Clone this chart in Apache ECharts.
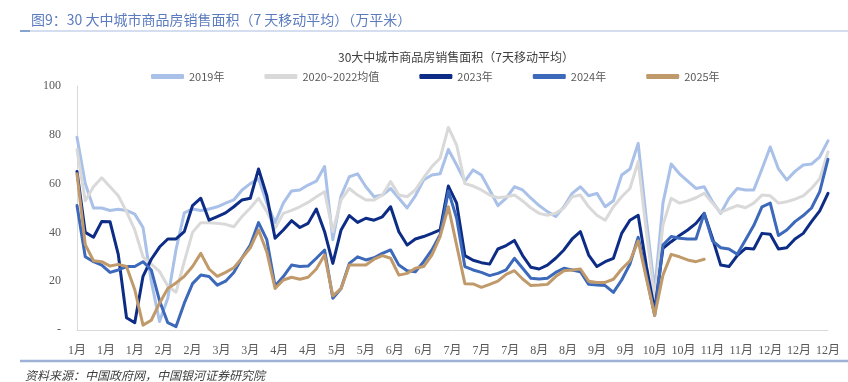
<!DOCTYPE html>
<html>
<head>
<meta charset="utf-8">
<script src="https://cdn.jsdelivr.net/npm/echarts@6/dist/echarts.min.js"></script>
<style>
html,body{margin:0;padding:0;background:#fff;}
#chart{width:848px;height:382px;}
</style>
</head>
<body>
<div id="chart"></div>
<script>
// day of year (0 = 1月1日), sampled every 4 days
const days = [0,4,8,12,16,20,24,28,32,36,40,44,48,52,56,60,64,68,72,76,80,84,88,92,96,100,104,108,112,116,120,124,128,132,136,140,144,148,152,156,160,164,168,172,176,180,184,188,192,196,200,204,208,212,216,220,224,228,232,236,240,244,248,252,256,260,264,268,272,276,280,284,288,292,296,300,304,308,312,316,320,324,328,332,336,340,344,348,352,356,360,364];

const xTickLabels = ['1月','1月','1月','2月','2月','3月','3月','4月','4月','5月','5月','6月','6月','7月','7月','7月','8月','8月','9月','9月','10月','10月','11月','11月','12月','12月','12月'];

const seriesNames = ['2019年','2020~2022均值','2023年','2024年','2025年'];

const s2019 = [79,60,50,50,49,49.5,49,47.5,42,20,3.5,13,33,48,49.6,49,49.6,50.5,52,53.3,57.4,60,62,52,44,52,57,57.4,59.4,61,67,37,55,62.8,64,58.7,54.6,55.3,58,54,50,55,61.5,63.5,64,74,67.6,61,65.6,63.5,57.4,51,54,58.7,57.4,54,51,48.5,46.5,50.5,56,58.7,55,56,50.5,53,63.5,66,76.5,45,16,52,68,64,61,58,58.7,52.6,47.8,54,58,57.4,57.4,66,75,66,61.5,65,67.6,68,71,77.5];

const sAvg = [74,53,58.7,62.4,58.7,55,48.5,41,30,27,24,18,15.5,28,40,44,44,43.7,43.3,42.3,46.5,50,54,48.5,41.7,47.8,49,50.5,52.3,54.6,56.7,40.3,53.3,58,55.3,53.3,53.3,55.3,60.8,55.3,54.6,57.4,62.4,67,70.4,83,75.8,60,59,57.4,55.3,54.2,54.6,55.3,52.9,50,47.8,47,47.8,50,54.6,55.3,50.5,47,45,50.5,54.6,58,69,40,13,43,54,52,52.9,54.2,56,52,48.2,49.6,51,50.1,52,55.3,55,52,52.6,53.6,55,58,62,73];

const s2023 = [65,40,38,44.5,44.4,31,5,3,22,29,34,37.3,37.3,40.3,51,54,45,46.5,48,50.5,53.3,54,66,55,37.6,41,44.8,42,43.7,49.6,40.3,27.3,41,46.9,44.1,45.8,45,46.4,50.5,40.3,34.8,37.3,38.3,39.6,41,59,52,30.5,28.6,27.6,27,33.2,34.6,36.7,30.5,25.7,25,26.6,29.4,32.8,37.3,40.3,30.7,26,28,29.4,39.6,45,47,26,8,33.5,36.2,38.7,41,43.7,47.8,37.6,26.6,26,30.5,33.5,33.2,39.6,39.2,33.2,33.7,37.3,39.6,44.4,48.8,56];

const s2024 = [51,30,28,26.6,23.6,24.6,26,26,28,24.6,12,3,1.4,11,19,22.5,21.9,18.4,20,23.6,29.6,34.8,44,37,18,21.9,26.6,26,26.2,29.4,32.8,13,17,27.3,30,28.7,29.6,31.4,32.8,26.6,24.3,23.9,28,32.8,39,57,45.8,26,24.6,23.6,22.3,23.2,24.6,29.4,25.3,21.2,20.9,21.2,23.6,25.3,24.6,23.9,18.7,18.4,18.2,15.4,20.5,27,38,22,6,34.8,38.3,37.6,37.3,37.3,47.8,36.5,33.7,33.2,31,36.9,42.8,50.5,52,38.7,41,44.4,46.9,50,56.7,70];

const s2025 = [64,35,28.4,28,26.2,26.9,26,16.5,2,4,11,17,19.3,22,26,31.4,25,22,23.6,25.5,29.5,33.7,41,32,17,20.5,21.6,20.8,21.6,25,30.7,14,17,26.6,26.6,26.6,29,30.5,29.4,22.5,23.2,25.3,26,30.7,38.3,50.5,34.8,19,18.9,17.5,18.7,20,22.8,24.3,20.9,18.2,18.4,18.7,21.9,24.3,24.6,25,20,19.5,19.5,20.8,25,28.3,36.5,21,6,22.5,31,30,28.7,28,29];

const colors = ['#a9c0e8','#d9d9d9','#0d2c86','#3d69ba','#c09a6a'];
const allValues = [s2019, sAvg, s2023, s2024, s2025];

function pairs(vals){ return vals.map((v,i)=>[days[i], v]); }

const chart = echarts.init(document.getElementById('chart'), null, {renderer:'canvas'});
chart.setOption({
  animation:false,
  backgroundColor:'#ffffff',
  color: colors,
  title:[
    {text:'图9：30 大中城市商品房销售面积（7 天移动平均）（万平米）', left:26, top:8,
     textStyle:{fontSize:14, fontWeight:'normal', color:'#5b7bbf', fontFamily:'Noto Sans CJK SC'}},
    {text:'30大中城市商品房销售面积（7天移动平均）', left:333, top:46,
     textStyle:{fontSize:12, fontWeight:'normal', color:'#404040', fontFamily:'Noto Sans CJK SC'}},
    {text:'资料来源：中国政府网，中国银河证券研究院', left:20, top:364,
     textStyle:{fontSize:12, fontWeight:'normal', fontStyle:'italic', color:'#404040', fontFamily:'Noto Sans CJK SC'}}
  ],
  graphic:[
    {type:'line', shape:{x1:20,y1:31,x2:848,y2:31}, style:{stroke:'#a9bde0', lineWidth:1}},
    {type:'line', shape:{x1:20,y1:31,x2:30,y2:31}, style:{stroke:'#6f8fc6', lineWidth:1.5}},
    {type:'line', shape:{x1:20,y1:361,x2:848,y2:361}, style:{stroke:'#9db2d6', lineWidth:2.5}}
  ],
  legend:{
    left:146, top:66, icon:'roundRect', itemWidth:33, itemHeight:5, itemGap:40,
    textStyle:{fontSize:11, color:'#595959', fontFamily:'Noto Sans CJK SC'},
    data: seriesNames
  },
  grid:{left:77, right:20, top:86, bottom:52, containLabel:false},
  xAxis:{
    type:'value', min:0, max:364, interval:14,
    axisLine:{show:true, lineStyle:{color:'#d9d9d9', width:1}},
    axisTick:{show:false}, splitLine:{show:false},
    axisLabel:{margin:15, color:'#595959', fontSize:12, fontFamily:'Liberation Serif, Noto Sans CJK SC',
      formatter:function(v){ return xTickLabels[Math.round(v/14)] || ''; }}
  },
  yAxis:{
    type:'value', min:0, max:100, interval:20,
    axisLine:{show:true, lineStyle:{color:'#d9d9d9', width:1}},
    axisTick:{show:false}, splitLine:{show:false},
    axisLabel:{margin:16, color:'#595959', fontSize:12, fontFamily:'Liberation Serif',
      formatter:function(v){ return v===0 ? '-' : String(v); }}
  },
  series: seriesNames.map((n,i)=>({
    name:n, type:'line', symbol:'none', smooth:false,
    lineStyle:{width:3, color:colors[i], cap:'round', join:'round'},
    itemStyle:{color:colors[i]},
    data: pairs(allValues[i]),
    z: 2+i
  }))
});
</script>
</body>
</html>
